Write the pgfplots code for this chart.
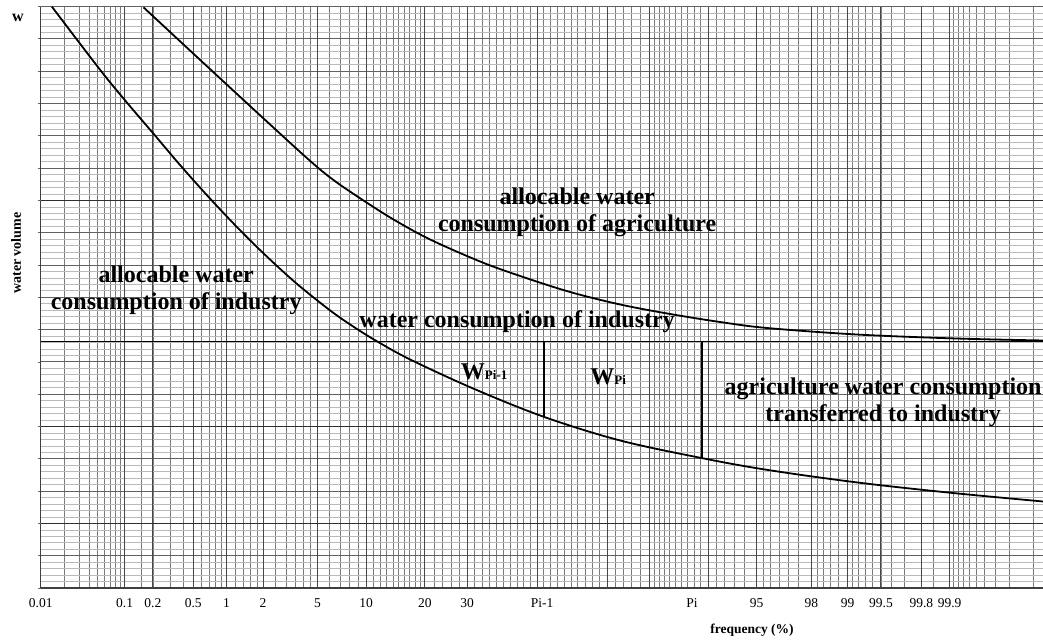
\documentclass[border=0pt]{standalone}
\usepackage{fontspec}
\setmainfont{Liberation Serif}
\usepackage{pgfplots}
\pgfplotsset{compat=1.18}
\begin{document}
\begin{tikzpicture}
\useasboundingbox (0,0) rectangle (1043pt,643pt);
\begin{axis}[
  at={(40.7pt,55pt)}, anchor=south west,
  scale only axis, width=1002.3pt, height=581.4pt,
  xmin=-3.7190, xmax=3.790, ymin=0, ymax=18,
  axis x line*=bottom, axis y line*=left,
  axis line style={black!75, line width=1.5pt},
  xtick={-3.7190,-3.0902,-2.8782,-2.5758,-2.3263,-2.0537,-1.6449,-1.2816,-0.8416,-0.5244,0.037,1.161,1.6449,2.0537,2.3263,2.5758,2.8782,3.0902},
  xticklabels={0.01,0.1,0.2,0.5,1,2,5,10,20,30,Pi-1,Pi,95,98,99,99.5,99.8,99.9},
  xticklabel style={font=\fontsize{13.5}{14}\selectfont, yshift=-4pt},
  xtick style={draw=none},
  minor xtick={-3.5401,-3.4316,-3.3528,-3.2905,-3.2389,-3.1947,-3.1559,-3.1214,-3.0902,-2.9677,-2.8782,-2.7478,-2.6521,-2.5758,-2.5121,-2.4573,-2.4089,-2.3656,-2.3263,-2.2571,-2.1973,-2.1444,-2.0969,-2.0537,-1.9600,-1.8808,-1.8119,-1.7507,-1.6954,-1.6449,-1.5548,-1.4758,-1.4051,-1.3408,-1.2816,-1.2265,-1.1750,-1.1264,-1.0803,-1.0364,-0.9945,-0.9542,-0.9154,-0.8779,-0.8416,-0.7722,-0.7063,-0.6433,-0.5828,-0.5244,-0.4677,-0.4125,-0.3585,-0.3055,-0.2533,-0.2019,-0.1510,-0.1004,-0.0502,0,0.0502,0.1004,0.1510,0.2019,0.2533,0.3055,0.3585,0.4125,0.4677,0.5244,0.5828,0.6433,0.7063,0.7722,0.8416,0.8779,0.9154,0.9542,0.9945,1.0364,1.0803,1.1264,1.1750,1.2265,1.2816,1.3408,1.4051,1.4758,1.5548,1.6449,1.6954,1.7507,1.8119,1.8808,1.9600,2.0537,2.0969,2.1444,2.1973,2.2571,2.3263,2.3656,2.4089,2.4573,2.5121,2.5758,2.6521,2.7478,2.8782,2.9677,3.0902,3.1214,3.1559,3.1947,3.2389,3.2905,3.3528,3.4316,3.5401,3.7190},
  xminorgrids=true, xmajorgrids=false,
  minor x grid style={black!52, line width=0.85pt},
  extra x ticks={-3.0902,-2.8782,-2.5758,-2.3263,-2.0537,-1.6449,-1.2816,-0.8416,-0.5244,0,0.5244,0.8416,1.2816,1.6449,2.0537,2.3263,2.5758,2.8782,3.0902},
  extra x tick labels={},
  extra x tick style={xmajorgrids=true, major x grid style={black!72, line width=0.95pt}, tick style={draw=none}},
  ytick={0,1,...,18}, yticklabels={},
  minor y tick num=4,
  ymajorgrids=true, yminorgrids=true,
  major y grid style={black!62, line width=0.85pt},
  minor y grid style={black!27, line width=0.7pt},
  ytick style={draw=black!60, line width=0.8pt},
  tick align=outside, major tick length=3pt, minor tick length=0pt,
  extra y ticks={2,5,12}, extra y tick labels={},
  extra y tick style={major y grid style={black!82, line width=1pt}},
  xlabel={frequency (\%)},
  every axis x label/.style={at={(axis description cs:0.7097,0)}, anchor=center, yshift=-42pt, font=\bfseries\fontsize{13.5}{14}\selectfont},
  ylabel={water volume},
  every axis y label/.style={at={(axis description cs:-0.0246,0.576)}, rotate=90, anchor=center, font=\bfseries\fontsize{14}{15}\selectfont},
]
% horizontal line: water consumption of industry
\addplot[black, line width=1.6pt] coordinates {(-3.7190,7.632) (3.790,7.632)};
% allocable water consumption of industry (lower curve)
\addplot[black, line width=1.8pt, smooth, tension=0.55] coordinates {
(-3.635,17.997) (-3.273,16.037) (-3.073,15.028) (-2.874,14.065) (-2.674,13.090)
(-2.449,12.050) (-2.225,11.074) (-2.025,10.263) (-1.800,9.418) (-1.551,8.594)
(-1.376,8.090) (-1.201,7.641) (-0.951,7.074) (-0.479,6.176) (0.052,5.297)
(0.622,4.567) (1.234,4.022) (1.721,3.659) (2.395,3.269) (3.094,2.950) (3.790,2.678)};
% allocable water consumption of agriculture (upper curve)
\addplot[black, line width=1.8pt, smooth, tension=0.55] coordinates {
(-2.949,17.978) (-2.524,16.347) (-2.025,14.443) (-1.700,13.220) (-1.526,12.632)
(-1.326,12.065) (-1.076,11.409) (-0.801,10.789) (-0.427,10.108) (-0.127,9.659)
(0.247,9.164) (0.622,8.777) (0.996,8.483) (1.371,8.235) (1.721,8.050)
(2.395,7.848) (3.144,7.724) (3.790,7.663)};
% Pi-1 and Pi verticals
\addplot[black, line width=1.3pt] coordinates {(0.052,7.632) (0.052,5.297)};
\addplot[black, line width=1.3pt] coordinates {(1.234,7.632) (1.234,4.022)};
\node[font=\bfseries\fontsize{24}{27}\selectfont, align=center, inner sep=0pt] at (axis cs:-2.704,9.226) {allocable water\\consumption of industry};
\node[font=\bfseries\fontsize{24}{27}\selectfont, align=center, inner sep=0pt] at (axis cs:0.300,11.641) {allocable water\\consumption of agriculture};
\node[font=\bfseries\fontsize{24}{27}\selectfont, inner sep=0pt] at (axis cs:-0.150,8.235) {water consumption of industry};
\node[font=\bfseries\fontsize{24}{27}\selectfont, align=center, inner sep=0pt] at (axis cs:2.592,5.759) {agriculture water consumption\\transferred to industry};
\node[font=\bfseries, inner sep=0pt] at (axis cs:-0.397,6.687) {{\fontsize{24}{24}\selectfont W}{\fontsize{13}{13}\selectfont Pi-1}};
\node[font=\bfseries, inner sep=0pt] at (axis cs:0.532,6.533) {{\fontsize{24}{24}\selectfont W}{\fontsize{13}{13}\selectfont Pi}};
\end{axis}
\node[font=\bfseries\fontsize{16}{16}\selectfont, inner sep=0pt] at (18pt,625.5pt) {w};
\end{tikzpicture}
\end{document}
